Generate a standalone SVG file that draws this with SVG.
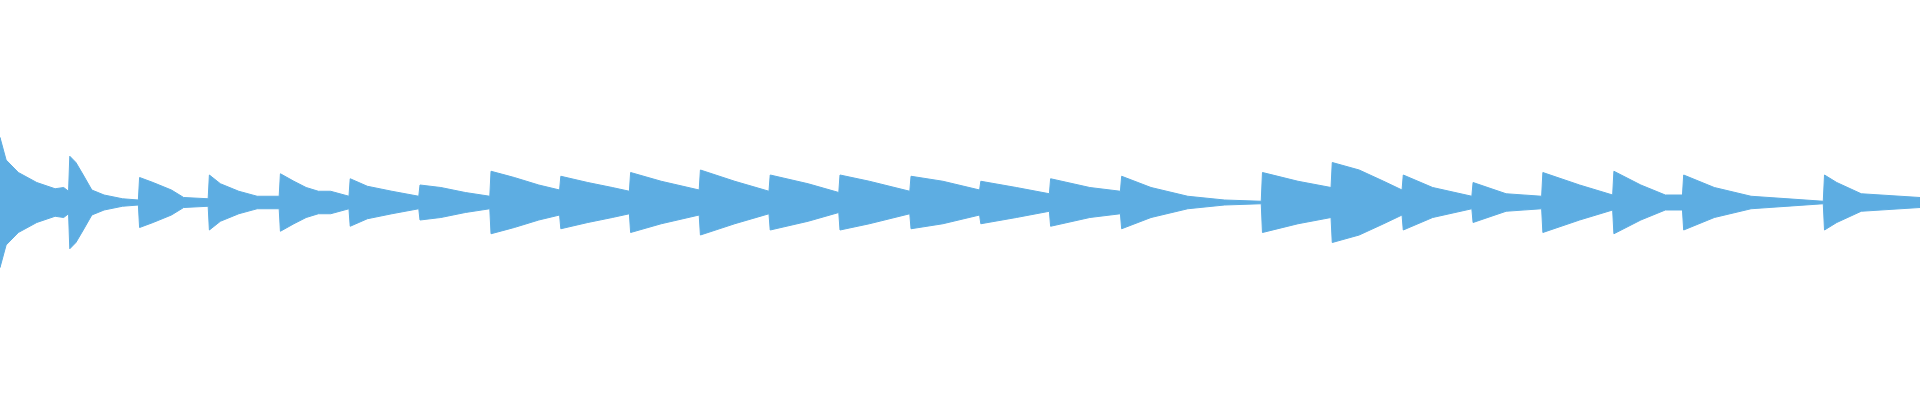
<svg xmlns="http://www.w3.org/2000/svg" xmlns:xlink="http://www.w3.org/1999/xlink" width="1920" height="400" viewBox="0 0 1920 400">
<defs>
<style>.w{fill:#5dade2;stroke:#5dade2;stroke-width:0.8}</style>
<path id="top" class="w" d="M0,162 L0,110 L5,128 L15,138 L30,146 L45,151 L52,150 L56,153 L57,125 L62,130 L68,140 L75,152 L85,156 L100,159 L113,160 L114,142 L125,146 L140,152 L150,158 L170,159 L171,140 L180,147 L195,153 L210,157 L228,157 L229,139 L240,145 L250,150 L260,153 L270,153 L285,157 L286,143 L300,149 L320,153 L342,157 L343,148 L360,150 L380,154 L400,157 L401,137 L420,142 L440,148 L457,152 L458,141 L480,146 L500,150 L514,153 L515,138 L540,145 L571,152 L572,136 L600,145 L628,153 L629,140 L660,147 L685,154 L686,140 L710,145 L743,153 L744,141 L770,145 L800,152 L801,145 L830,150 L857,155 L858,143 L890,150 L915,153 L916,141 L940,150 L970,157 L1000,160 L1030,161 L1031,138 L1060,145 L1087,150 L1088,130 L1110,136 L1130,145 L1145,152 L1146,140 L1170,150 L1202,157 L1203,146 L1230,155 L1259,157 L1260,138 L1290,148 L1317,156 L1318,137 L1340,148 L1360,156 L1374,156 L1375,140 L1400,150 L1430,157 L1489,161 L1490,140 L1500,146 L1520,155 L1568,158 L1568,162 Z"/>
</defs>
<g transform="scale(1.2245,1.25)">
<use xlink:href="#top"/>
<use xlink:href="#top" transform="translate(0,324) scale(1,-1)"/>
</g>
</svg>
